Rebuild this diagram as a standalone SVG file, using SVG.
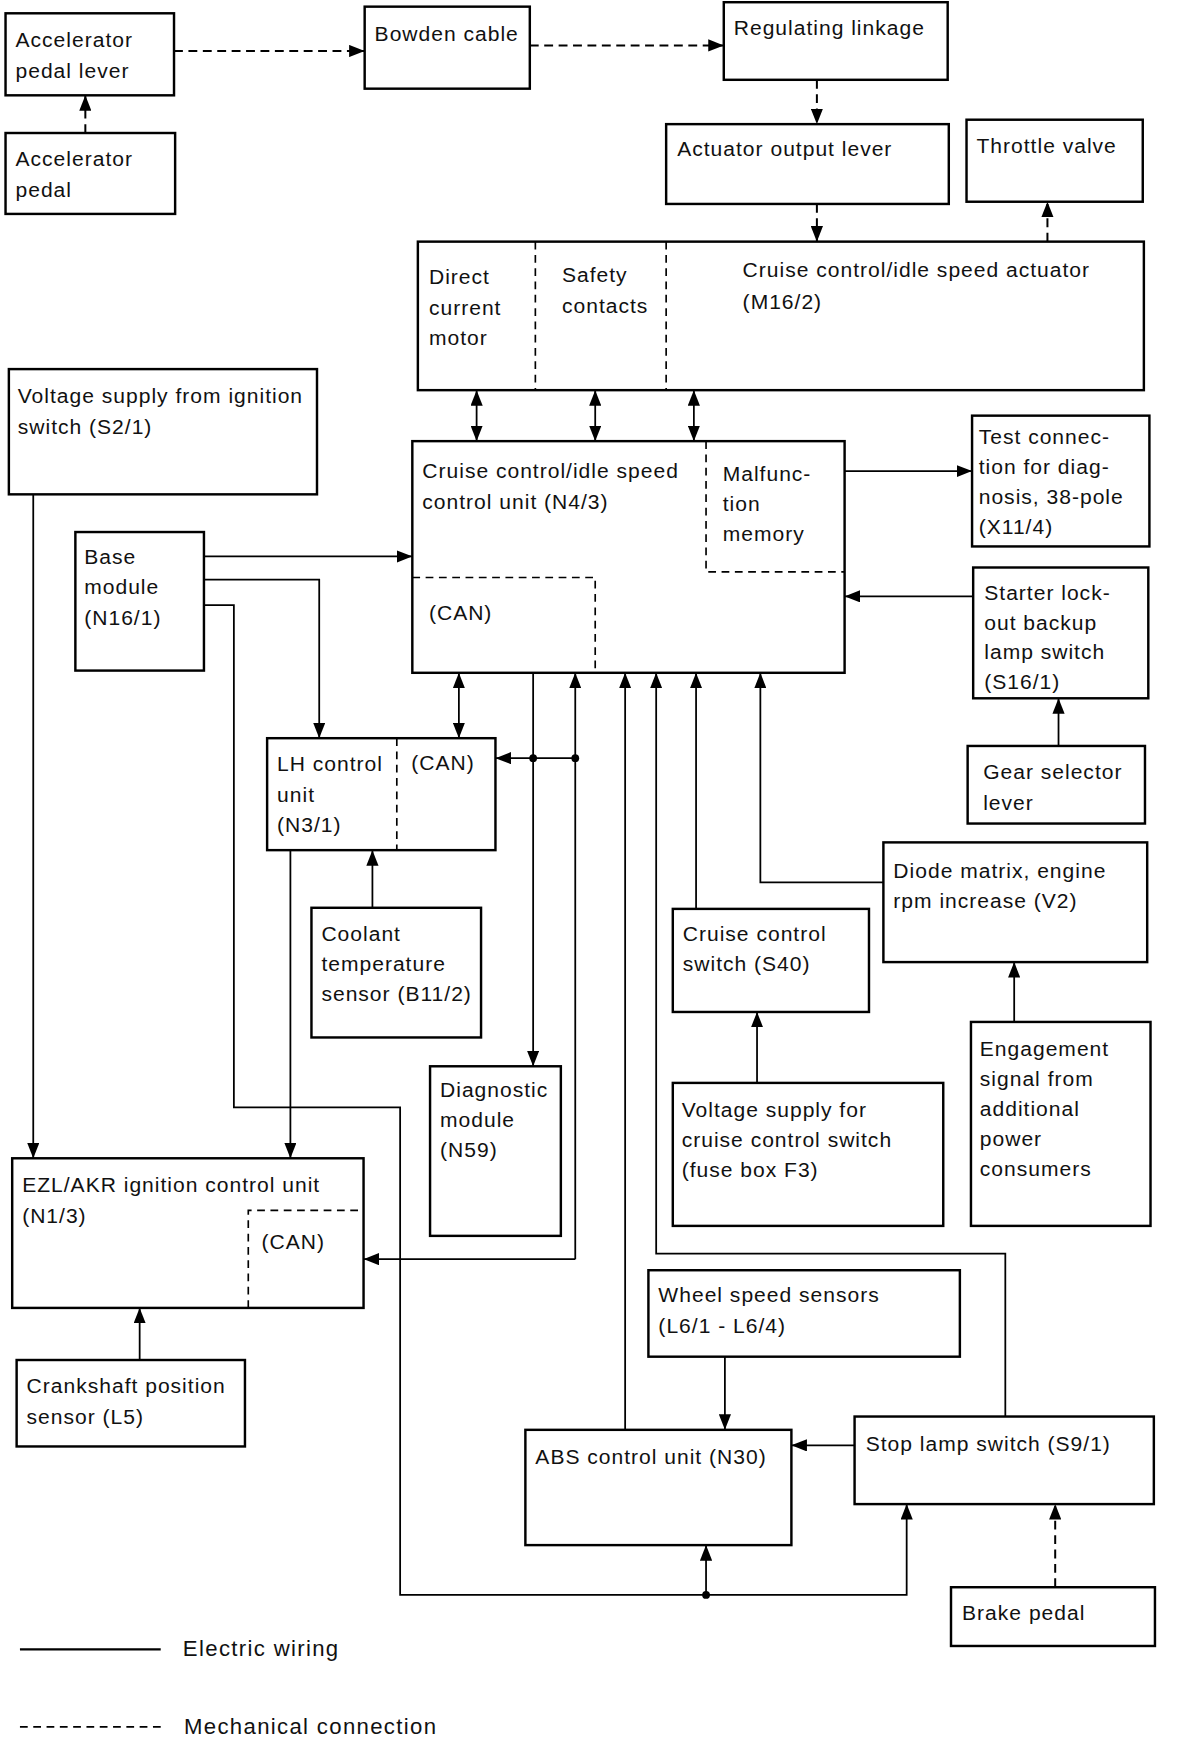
<svg xmlns="http://www.w3.org/2000/svg" width="1184" height="1738" viewBox="0 0 1184 1738">
<style>
.box{fill:#fff;stroke:#000;stroke-width:2.2}
.div{fill:none;stroke:#000;stroke-width:1.5;stroke-dasharray:7 5}
.t{font-family:"Liberation Sans",Arial,Helvetica,sans-serif;font-size:19px;letter-spacing:0.9px;fill:#111}
.lg{font-size:20px;letter-spacing:1.2px}
.e{fill:none;stroke:#000;stroke-width:1.6}
.m{fill:none;stroke:#000;stroke-width:1.8;stroke-dasharray:8 5}
.dot{fill:#000}
</style>
<defs>
<marker id="ah" markerUnits="userSpaceOnUse" markerWidth="14" markerHeight="11" refX="14" refY="5.5" orient="auto-start-reverse">
<path d="M0,0 L14,5.5 L0,11 z" fill="#000"/>
</marker>
</defs>
<rect width="1184" height="1738" fill="#fff"/>
<g transform="scale(1.1084)">
<g id="connectors">
<g id="mechanical">
<path class="m" d="M157,46 H329" marker-end="url(#ah)"/>
<path class="m" d="M478,41 H653" marker-end="url(#ah)"/>
<path class="m" d="M737,72 V112" marker-end="url(#ah)"/>
<path class="m" d="M77,120 V86" marker-end="url(#ah)"/>
<path class="m" d="M737,184 V218" marker-end="url(#ah)"/>
<path class="m" d="M945,218 V182" marker-end="url(#ah)"/>
<path class="m" d="M952,1432 V1357" marker-end="url(#ah)"/>
</g>
<g id="electric">
<path class="e" d="M430,352 V398" marker-start="url(#ah)" marker-end="url(#ah)"/>
<path class="e" d="M537,352 V398" marker-start="url(#ah)" marker-end="url(#ah)"/>
<path class="e" d="M626,352 V398" marker-start="url(#ah)" marker-end="url(#ah)"/>
<path class="e" d="M762,425 H877" marker-end="url(#ah)"/>
<path class="e" d="M878,538 H762" marker-end="url(#ah)"/>
<path class="e" d="M955,673 V630" marker-end="url(#ah)"/>
<path class="e" d="M184,502 H372" marker-end="url(#ah)"/>
<path class="e" d="M184,523 H288 V666" marker-end="url(#ah)"/>
<path class="e" d="M184,546 H211 V999 H361 V1439 H818 V1357" marker-end="url(#ah)"/>
<path class="e" d="M637,1439 V1394" marker-end="url(#ah)"/>
<circle class="dot" cx="637" cy="1439" r="3.5"/>
<path class="e" d="M30,446 V1045" marker-end="url(#ah)"/>
<path class="e" d="M262,767 V1045" marker-end="url(#ah)"/>
<path class="e" d="M336,819 V767" marker-end="url(#ah)"/>
<path class="e" d="M126,1227 V1180" marker-end="url(#ah)"/>
<path class="e" d="M414,607 V666" marker-start="url(#ah)" marker-end="url(#ah)"/>
<path class="e" d="M481,607 V962" marker-end="url(#ah)"/>
<path class="e" d="M519,1136 V607" marker-end="url(#ah)"/>
<path class="e" d="M519,1136 H328" marker-end="url(#ah)"/>
<path class="e" d="M519,684 H447" marker-end="url(#ah)"/>
<circle class="dot" cx="481" cy="684" r="3.5"/>
<circle class="dot" cx="519" cy="684" r="3.5"/>
<path class="e" d="M564,1290 V607" marker-end="url(#ah)"/>
<path class="e" d="M907,1278 V1131 H592 V607" marker-end="url(#ah)"/>
<path class="e" d="M628,820 V607" marker-end="url(#ah)"/>
<path class="e" d="M797,796 H686 V607" marker-end="url(#ah)"/>
<path class="e" d="M683,977 V913" marker-end="url(#ah)"/>
<path class="e" d="M915,922 V868" marker-end="url(#ah)"/>
<path class="e" d="M654,1224 V1290" marker-end="url(#ah)"/>
<path class="e" d="M771,1304 H714" marker-end="url(#ah)"/>
</g>
</g>
<g id="n-acc-lever"><rect class="box" x="5" y="12" width="152" height="74"/><text class="t" x="14" y="42">Accelerator</text><text class="t" x="14" y="70">pedal lever</text></g>
<g id="n-acc-pedal"><rect class="box" x="5" y="120" width="153" height="73"/><text class="t" x="14" y="150">Accelerator</text><text class="t" x="14" y="178">pedal</text></g>
<g id="n-bowden"><rect class="box" x="329" y="6" width="149" height="74"/><text class="t" x="338" y="37">Bowden cable</text></g>
<g id="n-regulating"><rect class="box" x="653" y="2" width="202" height="70"/><text class="t" x="662" y="32">Regulating linkage</text></g>
<g id="n-act-output"><rect class="box" x="601" y="112" width="255" height="72"/><text class="t" x="611" y="141">Actuator output lever</text></g>
<g id="n-throttle"><rect class="box" x="872" y="108" width="159" height="74"/><text class="t" x="881" y="138">Throttle valve</text></g>
<g id="n-actuator"><rect class="box" x="377" y="218" width="655" height="134"/>
<path class="div" d="M483,218 V352 M601,218 V352"/>
<text class="t" x="387" y="256">Direct</text><text class="t" x="387" y="284">current</text><text class="t" x="387" y="311">motor</text>
<text class="t" x="507" y="254">Safety</text><text class="t" x="507" y="282">contacts</text>
<text class="t" x="670" y="250">Cruise control/idle speed actuator</text><text class="t" x="670" y="279">(M16/2)</text></g>
<g id="n-volt-ign"><rect class="box" x="8" y="333" width="278" height="113"/><text class="t" x="16" y="364">Voltage supply from ignition</text><text class="t" x="16" y="392">switch (S2/1)</text></g>
<g id="n-ccu"><rect class="box" x="372" y="398" width="390" height="209"/>
<path class="div" d="M637,398 V516 H762 M372,521 H537 V607"/>
<text class="t" x="381" y="431">Cruise control/idle speed</text><text class="t" x="381" y="459">control unit (N4/3)</text>
<text class="t" x="652" y="434">Malfunc-</text><text class="t" x="652" y="461">tion</text><text class="t" x="652" y="488">memory</text>
<text class="t" x="387" y="559">(CAN)</text></g>
<g id="n-test"><rect class="box" x="877" y="375" width="160" height="118"/><text class="t" x="883" y="401">Test connec-</text><text class="t" x="883" y="428">tion for diag-</text><text class="t" x="883" y="455">nosis, 38-pole</text><text class="t" x="883" y="482">(X11/4)</text></g>
<g id="n-starter"><rect class="box" x="878" y="512" width="158" height="118"/><text class="t" x="888" y="541">Starter lock-</text><text class="t" x="888" y="568">out backup</text><text class="t" x="888" y="595">lamp switch</text><text class="t" x="888" y="622">(S16/1)</text></g>
<g id="n-gear"><rect class="box" x="873" y="673" width="160" height="70"/><text class="t" x="887" y="703">Gear selector</text><text class="t" x="887" y="731">lever</text></g>
<g id="n-base"><rect class="box" x="68" y="480" width="116" height="125"/><text class="t" x="76" y="509">Base</text><text class="t" x="76" y="536">module</text><text class="t" x="76" y="564">(N16/1)</text></g>
<g id="n-lh"><rect class="box" x="241" y="666" width="206" height="101"/>
<path class="div" d="M358,666 V767"/>
<text class="t" x="250" y="696">LH control</text><text class="t" x="250" y="724">unit</text><text class="t" x="250" y="751">(N3/1)</text><text class="t" x="371" y="695">(CAN)</text></g>
<g id="n-coolant"><rect class="box" x="281" y="819" width="153" height="117"/><text class="t" x="290" y="849">Coolant</text><text class="t" x="290" y="876">temperature</text><text class="t" x="290" y="903">sensor (B11/2)</text></g>
<g id="n-diag"><rect class="box" x="388" y="962" width="118" height="153"/><text class="t" x="397" y="990">Diagnostic</text><text class="t" x="397" y="1017">module</text><text class="t" x="397" y="1044">(N59)</text></g>
<g id="n-ccs"><rect class="box" x="607" y="820" width="177" height="93"/><text class="t" x="616" y="849">Cruise control</text><text class="t" x="616" y="876">switch (S40)</text></g>
<g id="n-diode"><rect class="box" x="797" y="760" width="238" height="108"/><text class="t" x="806" y="792">Diode matrix, engine</text><text class="t" x="806" y="819">rpm increase (V2)</text></g>
<g id="n-volt-ccs"><rect class="box" x="607" y="977" width="244" height="129"/><text class="t" x="615" y="1008">Voltage supply for</text><text class="t" x="615" y="1035">cruise control switch</text><text class="t" x="615" y="1062">(fuse box F3)</text></g>
<g id="n-engage"><rect class="box" x="876" y="922" width="162" height="184"/><text class="t" x="884" y="953">Engagement</text><text class="t" x="884" y="980">signal from</text><text class="t" x="884" y="1007">additional</text><text class="t" x="884" y="1034">power</text><text class="t" x="884" y="1061">consumers</text></g>
<g id="n-ezl"><rect class="box" x="11" y="1045" width="317" height="135"/>
<path class="div" d="M224,1180 V1092 H328"/>
<text class="t" x="20" y="1075">EZL/AKR ignition control unit</text><text class="t" x="20" y="1103">(N1/3)</text><text class="t" x="236" y="1127">(CAN)</text></g>
<g id="n-crank"><rect class="box" x="15" y="1227" width="206" height="78"/><text class="t" x="24" y="1257">Crankshaft position</text><text class="t" x="24" y="1285">sensor (L5)</text></g>
<g id="n-wheel"><rect class="box" x="585" y="1146" width="281" height="78"/><text class="t" x="594" y="1175">Wheel speed sensors</text><text class="t" x="594" y="1203">(L6/1 - L6/4)</text></g>
<g id="n-abs"><rect class="box" x="474" y="1290" width="240" height="104"/><text class="t" x="483" y="1321">ABS control unit (N30)</text></g>
<g id="n-stop"><rect class="box" x="771" y="1278" width="270" height="79"/><text class="t" x="781" y="1309">Stop lamp switch (S9/1)</text></g>
<g id="n-brake"><rect class="box" x="858" y="1432" width="184" height="53"/><text class="t" x="868" y="1462">Brake pedal</text></g>
<g id="legend">
<path class="e" d="M18,1488 H145" style="stroke-width:2"/>
<text class="t lg" x="165" y="1494">Electric wiring</text>
<path class="div" d="M18,1558 H145"/>
<text class="t lg" x="166" y="1564">Mechanical connection</text>
</g>
</g>
</svg>
